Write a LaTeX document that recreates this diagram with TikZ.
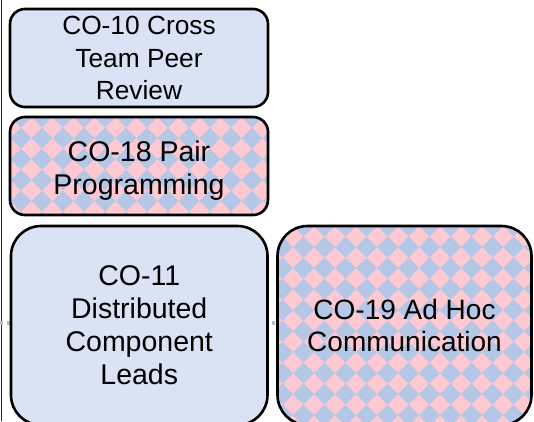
\documentclass[tikz,border=0pt]{standalone}
\usepackage{fontspec}
\setmainfont{Liberation Sans}
\usetikzlibrary{backgrounds}

\definecolor{boxblue}{RGB}{218,227,243}
\definecolor{patpink}{RGB}{255,201,210}
\definecolor{patblue}{RGB}{180,199,231}
\definecolor{dotgray}{RGB}{190,190,190}

\tikzset{
  card/.style={draw=black, line width=2.6pt, fill=boxblue, align=center,
    inner sep=0pt, font=\fontsize{28.5}{33}\selectfont},
  smallcard/.style={card, rounded corners=15pt},
  bigcard/.style={card, rounded corners=30pt},
  % pink ground with a diagonal lattice of blue diamonds
  diamonds/.style={fill=patpink, path picture={
    \foreach \i in {-1,...,13}{\foreach \j in {-1,...,10}{
      \fill[patblue, sharp corners] ([xshift=\i*21pt+#1pt, yshift=-\j*21pt]path picture bounding box.north west)
        +(-10.5pt,0) -- +(0,10.5pt) -- +(10.5pt,0) -- +(0,-10.5pt) -- cycle;
    }}}},
  connector/.style={dotgray, line width=4pt},
  frame/.style={black!85, line width=1.2pt}
}
% lower a block of lines without changing its reported size
\newcommand{\lowerlines}[2]{\raisebox{-#1}[\height][\depth]{\begin{tabular}{@{}c@{}}#2\end{tabular}}}

\begin{document}
\begin{tikzpicture}[x=1pt, y=-1pt]
  \useasboundingbox (0,0) rectangle (534,421);

  \node[smallcard, minimum width=258pt, minimum height=98pt,
        font=\fontsize{26.3}{32.5}\selectfont] (b1) at (139,58)
    {\lowerlines{2.5pt}{CO-10 Cross\\Team Peer\\Review}};
  \node[smallcard, diamonds=11, minimum width=258pt, minimum height=98pt] (b2) at (139,166)
    {\lowerlines{5pt}{CO-18 Pair\\Programming}};
  \node[bigcard, minimum width=256.5pt, minimum height=199pt] (b3) at (139.25,325.5)
    {CO-11\\Distributed\\Component\\Leads};
  \node[bigcard, diamonds=5, minimum width=254pt, minimum height=199pt,
        font=\fontsize{28}{32.5}\selectfont] (b4) at (404.5,325.5)
    {CO-19 Ad Hoc\\Communication};

  \coordinate (top) at (1.5,0);
  \coordinate (bottom) at (1.5,421);
  \coordinate (lft) at (0,323);

  \begin{scope}[on background layer]
    \draw[frame] (top) -- (bottom);
    \draw[connector, dash pattern=on 2.7pt off 4.3pt] (lft) -- (b3.west |- lft);
    \draw[connector, dash pattern=on 3pt off 4pt, dash phase=3.5pt]
      (b3.east |- lft) -- (b4.west |- lft);
  \end{scope}
\end{tikzpicture}
\end{document}
